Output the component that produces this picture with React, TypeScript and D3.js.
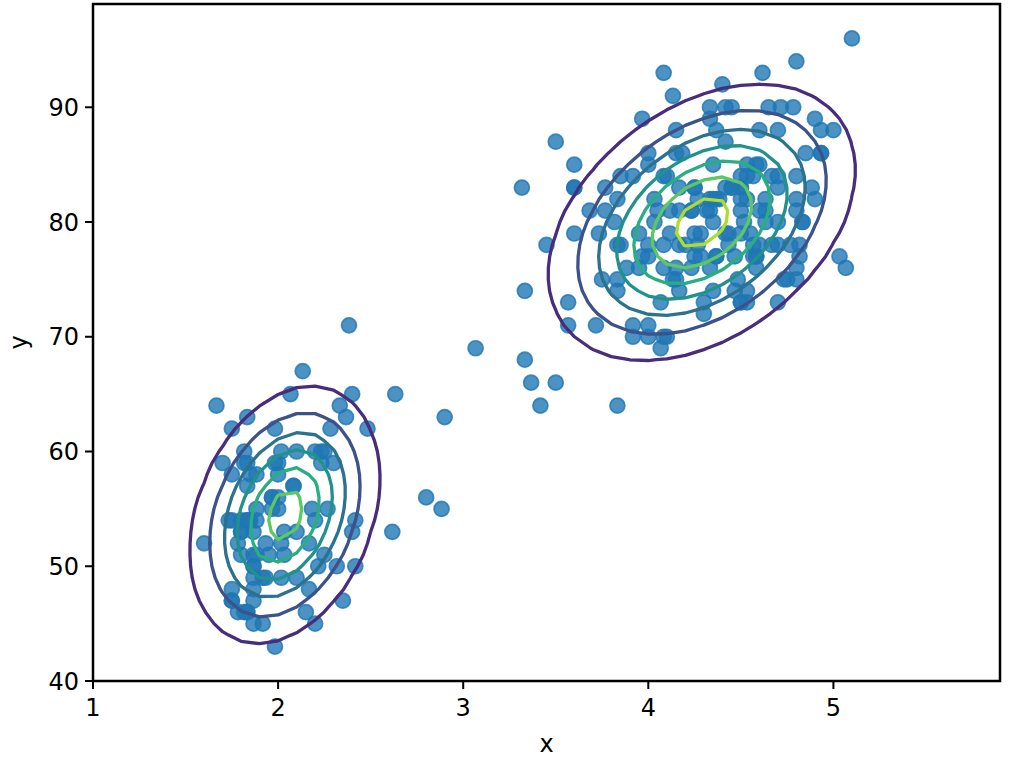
import React from 'react';
import * as d3 from 'd3';

// Old Faithful: eruption duration (x) vs waiting time (y)
const eruptions = [
  3.6, 1.8, 3.333, 2.283, 4.533, 2.883, 4.7, 3.6, 1.95, 4.35, 1.833, 3.917, 4.2, 1.75, 4.7, 2.167, 1.75, 4.8, 1.6, 4.25,
  1.8, 1.75, 3.45, 3.067, 4.533, 3.6, 1.967, 4.083, 3.85, 4.433, 4.3, 4.467, 3.367, 4.033, 3.833, 2.017, 1.867, 4.833, 1.833, 4.783,
  4.35, 1.883, 4.567, 1.75, 4.533, 3.317, 3.833, 2.1, 4.633, 2.0, 4.8, 4.716, 1.833, 4.833, 1.733, 4.883, 3.717, 1.667, 4.567, 4.317,
  2.233, 4.5, 1.75, 4.8, 1.817, 4.4, 4.167, 4.7, 2.067, 4.7, 4.033, 1.967, 4.5, 4.0, 1.983, 5.067, 2.017, 4.567, 3.883, 3.6,
  4.133, 4.333, 4.1, 2.633, 4.067, 4.933, 3.95, 4.517, 2.167, 4.0, 2.2, 4.333, 1.867, 4.817, 1.833, 4.3, 4.667, 3.75, 1.867, 4.9,
  2.483, 4.367, 2.1, 4.5, 4.05, 1.867, 4.7, 1.783, 4.85, 3.683, 4.733, 2.3, 4.9, 4.417, 1.7, 4.633, 2.317, 4.6, 1.817, 4.417,
  2.617, 4.067, 4.25, 1.967, 4.6, 3.767, 1.917, 4.5, 2.267, 4.65, 1.867, 4.167, 2.8, 4.333, 1.833, 4.383, 1.883, 4.933, 2.033, 3.733,
  4.233, 2.233, 4.533, 4.817, 4.333, 1.983, 4.633, 2.017, 5.1, 1.8, 5.033, 4.0, 2.4, 4.6, 3.567, 4.0, 4.5, 4.083, 1.8, 3.967,
  2.2, 4.15, 2.0, 3.833, 3.5, 4.583, 2.367, 5.0, 1.933, 4.617, 1.917, 2.083, 4.583, 3.333, 4.167, 4.333, 4.5, 2.417, 4.0, 4.167,
  1.883, 4.583, 4.25, 3.767, 2.033, 4.433, 4.083, 1.833, 4.417, 2.183, 4.8, 1.833, 4.8, 4.1, 3.966, 4.233, 3.5, 4.366, 2.25, 4.667,
  2.1, 4.35, 4.133, 1.867, 4.6, 1.783, 4.367, 3.85, 1.933, 4.5, 2.383, 4.7, 1.867, 3.833, 3.417, 4.233, 2.4, 4.8, 2.0, 4.15,
  1.867, 4.267, 1.75, 4.483, 4.0, 4.117, 4.083, 4.267, 3.917, 4.55, 4.083, 2.417, 4.183, 2.217, 4.45, 1.883, 1.85, 4.283, 3.95, 2.333,
  4.15, 2.35, 4.933, 2.9, 4.583, 3.833, 2.083, 4.367, 2.133, 4.35, 2.2, 4.45, 3.567, 4.5, 4.15, 3.817, 3.917, 4.45, 2.0, 4.283,
  4.767, 4.533, 1.85, 4.25, 1.983, 2.25, 4.75, 4.117, 2.15, 4.417, 1.817, 4.467,
];
const waiting = [
  79, 54, 74, 62, 85, 55, 88, 85, 51, 85, 54, 84, 78, 47, 83, 52, 62, 84, 52, 79,
  51, 47, 78, 69, 74, 83, 55, 76, 78, 79, 73, 77, 66, 80, 74, 52, 48, 80, 59, 90,
  80, 58, 84, 58, 73, 83, 64, 53, 82, 59, 75, 90, 54, 80, 54, 83, 71, 64, 77, 81,
  59, 84, 48, 82, 60, 92, 78, 78, 65, 73, 82, 56, 79, 71, 62, 76, 60, 78, 76, 83,
  75, 82, 70, 65, 73, 88, 76, 80, 48, 86, 60, 90, 50, 78, 63, 72, 84, 75, 51, 82,
  62, 88, 49, 83, 81, 47, 84, 52, 86, 81, 75, 59, 89, 79, 59, 81, 50, 85, 59, 87,
  53, 69, 77, 56, 88, 81, 45, 82, 55, 90, 45, 83, 56, 89, 46, 82, 51, 86, 53, 79,
  81, 60, 82, 77, 76, 59, 80, 49, 96, 53, 77, 77, 65, 81, 71, 70, 81, 93, 53, 89,
  45, 86, 58, 78, 66, 76, 63, 88, 52, 93, 49, 57, 77, 68, 81, 81, 73, 50, 85, 74,
  55, 77, 83, 83, 51, 78, 84, 46, 83, 55, 81, 57, 76, 84, 77, 81, 87, 77, 51, 78,
  60, 82, 91, 53, 78, 46, 77, 84, 49, 83, 71, 80, 49, 75, 64, 76, 53, 94, 55, 76,
  50, 82, 54, 75, 78, 79, 78, 78, 70, 79, 70, 54, 86, 50, 90, 54, 54, 77, 79, 64,
  75, 47, 86, 63, 85, 82, 57, 82, 67, 74, 54, 83, 73, 73, 88, 80, 71, 83, 56, 79,
  78, 84, 58, 83, 43, 60, 75, 81, 46, 90, 46, 74,
];

// two-component gaussian mixture fitted to the data
const weights = [0.3559, 0.6441];
const means = [[2.0363, 54.4785], [4.2897, 79.9681]];
const covs = [
  [[0.0692, 0.4352], [0.4352, 33.6973]],
  [[0.17, 0.9406], [0.9406, 36.0462]],
];
const levels = [0.006, 0.012, 0.018, 0.024, 0.03, 0.036, 0.042];
const levelMax = 0.048;

const xTicks = [1, 2, 3, 4, 5];
const yTicks = [40, 50, 60, 70, 80, 90];

// evaluation grid (also sets the axis limits)
const gridX = d3.range(50).map(i => 1 + i * 0.1);
const gridY = d3.range(60).map(j => 40 + j);

const width = 1014;
const height = 758;
const margin = { top: 4, right: 14, bottom: 77, left: 93 };

function density(x: number, y: number) {
  let total = 0;
  for (let k = 0; k < weights.length; k++) {
    const [[a, b], [, c]] = covs[k];
    const det = a * c - b * b;
    const dx = x - means[k][0];
    const dy = y - means[k][1];
    const q = (c * dx * dx - 2 * b * dx * dy + a * dy * dy) / det;
    total += (weights[k] / (2 * Math.PI * Math.sqrt(det))) * Math.exp(-0.5 * q);
  }
  return total;
}

const App: React.FC = () => {
  const xScale = d3.scaleLinear()
    .domain([gridX[0], gridX[gridX.length - 1]])
    .range([margin.left, width - margin.right]);
  const yScale = d3.scaleLinear()
    .domain([gridY[0], gridY[gridY.length - 1]])
    .range([height - margin.bottom, margin.top]);

  const nx = gridX.length;
  const ny = gridY.length;
  const values: number[] = [];
  for (let j = 0; j < ny; j++) {
    for (let i = 0; i < nx; i++) values.push(density(gridX[i], gridY[j]));
  }
  const contours = d3.contours().size([nx, ny]).thresholds(levels)(values);

  // d3.contours puts grid value i at coordinate i + 0.5
  const gx = d3.scaleLinear().domain([0.5, nx - 0.5]).range([gridX[0], gridX[nx - 1]]);
  const gy = d3.scaleLinear().domain([0.5, ny - 0.5]).range([gridY[0], gridY[ny - 1]]);
  const path = d3.geoPath(d3.geoTransform({
    point(x, y) {
      this.stream.point(xScale(gx(x)), yScale(gy(y)));
    },
  }));

  const font = 'DejaVu Sans, sans-serif';
  const x0 = margin.left;
  const x1 = width - margin.right;
  const y0 = margin.top;
  const y1 = height - margin.bottom;

  return (
    <svg width={width} height={height} style={{ position: 'absolute', left: 0, top: 0, background: '#fff' }}>
      <defs>
        <clipPath id="plot-area">
          <rect x={x0} y={y0} width={x1 - x0} height={y1 - y0} />
        </clipPath>
      </defs>
      <g clipPath="url(#plot-area)">
        {eruptions.map((e, i) => (
          <circle
            key={i}
            cx={xScale(e)}
            cy={yScale(waiting[i])}
            r={7.5}
            fill="#1f77b4"
            fillOpacity={0.8}
            stroke="#1f77b4"
            strokeOpacity={0.8}
            strokeWidth={1.7}
          />
        ))}
        {contours.map(c => (
          <path
            key={c.value}
            d={path(c as any) || ''}
            fill="none"
            stroke={d3.interpolateViridis(c.value / levelMax)}
            strokeWidth={3.3}
            strokeLinejoin="round"
          />
        ))}
      </g>
      <rect x={x0} y={y0} width={x1 - x0} height={y1 - y0} fill="none" stroke="#000" strokeWidth={2.5} />
      {xTicks.map(t => (
        <g key={t} transform={`translate(${xScale(t)},${y1})`}>
          <line y2={8} stroke="#000" strokeWidth={2} />
          <text y={35} textAnchor="middle" fontFamily={font} fontSize={24} fill="#000">{t}</text>
        </g>
      ))}
      {yTicks.map(t => (
        <g key={t} transform={`translate(${x0},${yScale(t)})`}>
          <line x2={-8} stroke="#000" strokeWidth={2} />
          <text x={-14} dy="0.36em" textAnchor="end" fontFamily={font} fontSize={24} fill="#000">{t}</text>
        </g>
      ))}
      <text x={(x0 + x1) / 2} y={752} textAnchor="middle" fontFamily={font} fontSize={24} fill="#000">x</text>
      <text transform={`translate(27,${(y0 + y1) / 2}) rotate(-90)`} textAnchor="middle" fontFamily={font} fontSize={24} fill="#000">y</text>
    </svg>
  );
};

export default App;
